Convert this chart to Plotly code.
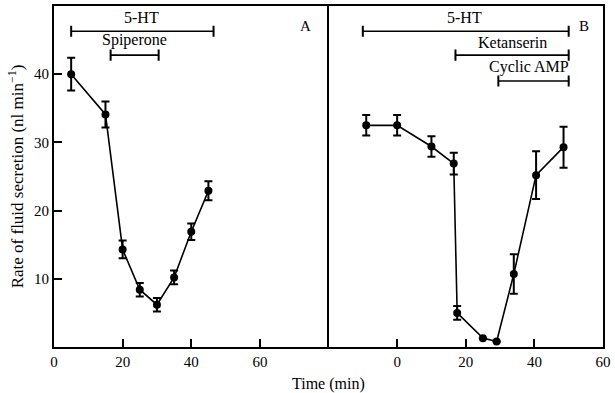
import plotly.graph_objects as go
from plotly.subplots import make_subplots

# Panel A data
a_time = [5, 15, 20, 25, 30, 35, 40, 45]
a_rate = [40.0, 34.1, 14.3, 8.4, 6.2, 10.2, 16.9, 22.9]
a_err = [2.4, 1.9, 1.3, 1.0, 1.0, 1.0, 1.2, 1.4]

# Panel B data
b_time = [-9, 0, 10, 16.5, 17.5, 25, 29, 34, 40.5, 48.5]
b_rate = [32.5, 32.5, 29.4, 26.9, 5.0, 1.3, 0.8, 10.7, 25.2, 29.3]
b_err = [1.5, 1.5, 1.5, 1.6, 1.0, 0.0, 0.0, 2.9, 3.5, 3.0]

# Treatment periods
a_treat_labels = ["5-HT", "Spiperone"]
a_treat_start = [5, 16.5]
a_treat_end = [46.5, 30.5]
a_treat_level = [46.3, 42.8]
a_label_x = [25.5, 23.5]
a_label_y = [48.3, 45.0]

b_treat_labels = ["5-HT", "Ketanserin", "Cyclic AMP"]
b_treat_start = [-10, 17, 29.5]
b_treat_end = [50, 50, 50]
b_treat_level = [46.3, 42.8, 39.0]
b_label_x = [19.5, 33.5, 38.5]
b_label_y = [48.3, 44.6, 41.1]

panel_letters = ["A", "B"]
x_ticks = [0, 20, 40, 60]
y_ticks = [10, 20, 30, 40]

FONT = "Liberation Serif"
fig = make_subplots(rows=1, cols=2, shared_yaxes=True, horizontal_spacing=0)

def add_series(t, r, e, col):
    fig.add_trace(go.Scatter(
        x=t, y=r, mode="lines+markers",
        line=dict(color="black", width=1.6),
        marker=dict(color="black", size=8),
        error_y=dict(type="data", array=e, color="black", thickness=2, width=4),
        showlegend=False), row=1, col=col)

add_series(a_time, a_rate, a_err, 1)
add_series(b_time, b_rate, b_err, 2)

def add_treatments(labels, s, e, lvl, lx, ly, col):
    xref = "x" if col == 1 else "x2"
    for i in range(len(labels)):
        fig.add_trace(go.Scatter(
            x=[s[i], e[i]], y=[lvl[i], lvl[i]], mode="lines+markers",
            line=dict(color="black", width=1.6),
            marker=dict(symbol="line-ns", size=8, line=dict(color="black", width=2)),
            showlegend=False, hoverinfo="skip"), row=1, col=col)
        fig.add_annotation(x=lx[i], y=ly[i], xref=xref, yref="y", text=labels[i],
                           showarrow=False, font=dict(family=FONT, size=16, color="black"))

add_treatments(a_treat_labels, a_treat_start, a_treat_end, a_treat_level, a_label_x, a_label_y, 1)
add_treatments(b_treat_labels, b_treat_start, b_treat_end, b_treat_level, b_label_x, b_label_y, 2)

fig.add_annotation(x=73.2, y=47, xref="x", yref="y", text=panel_letters[0], showarrow=False,
                   font=dict(family=FONT, size=15, color="black"))
fig.add_annotation(x=54.4, y=47, xref="x2", yref="y", text=panel_letters[1], showarrow=False,
                   font=dict(family=FONT, size=15, color="black"))

axis_common = dict(showline=True, linecolor="black", linewidth=1.8,
                   ticks="inside", ticklen=8, tickwidth=1.8, tickcolor="black",
                   showgrid=False, zeroline=False,
                   tickfont=dict(family=FONT, size=15, color="black"))

fig.update_xaxes(range=[0, 80], tickvals=x_ticks, mirror=True, **axis_common, row=1, col=1)
fig.update_xaxes(range=[-20, 60], tickvals=x_ticks, mirror=True, **axis_common, row=1, col=2)
fig.update_yaxes(range=[0, 50], tickvals=y_ticks, mirror=False, **axis_common,
                 title=dict(text="Rate of fluid secretion (nl min<sup>−1</sup>)",
                            font=dict(family=FONT, size=17, color="black"), standoff=6),
                 row=1, col=1)
fig.update_yaxes(range=[0, 50], showticklabels=False, ticks="", showline=True,
                 linecolor="black", linewidth=1.8, mirror=True, showgrid=False,
                 zeroline=False, row=1, col=2)

fig.add_annotation(x=0.5, y=0, xref="paper", yref="paper", text="Time (min)",
                   showarrow=False, yanchor="middle", yshift=-37,
                   font=dict(family=FONT, size=16, color="black"))

fig.update_layout(width=615, height=393, margin=dict(l=54, r=10, t=4, b=46),
                  plot_bgcolor="white", paper_bgcolor="white",
                  font=dict(family=FONT, color="black"))

fig.write_html("out.html")
